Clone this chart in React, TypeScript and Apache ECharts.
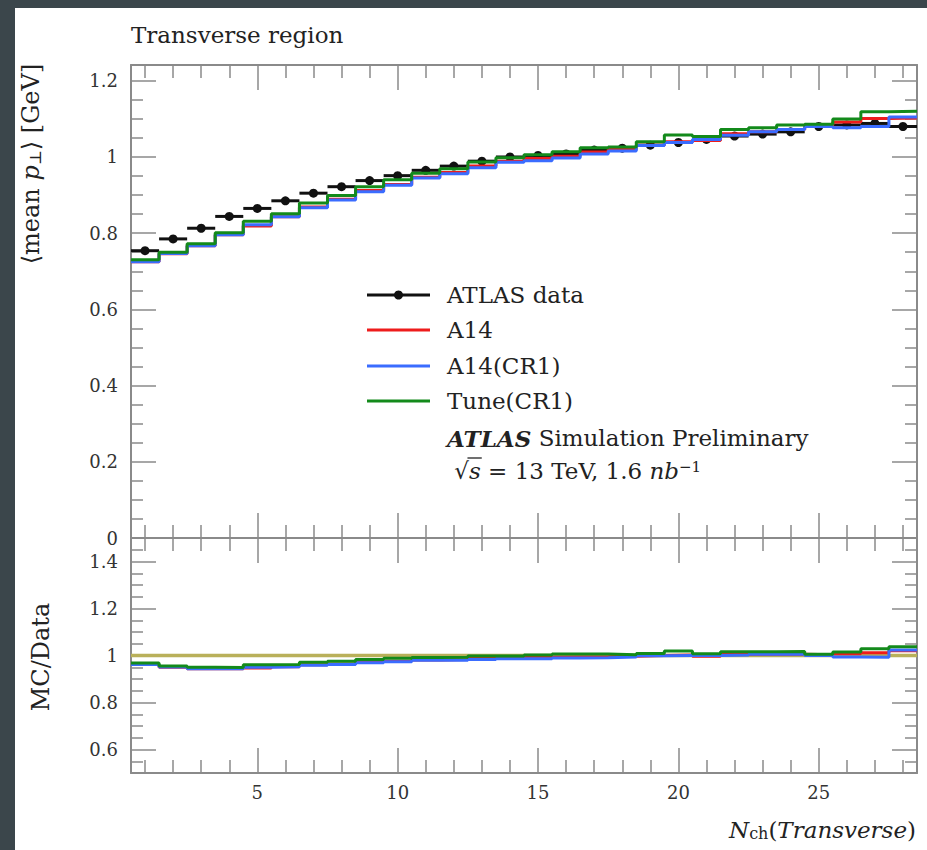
import React, { useEffect, useRef } from "react";
import * as echarts from "echarts";

// ---- data ----
const nch = [1, 2, 3, 4, 5, 6, 7, 8, 9, 10, 11, 12, 13, 14, 15, 16, 17, 18, 19, 20, 21, 22, 23, 24, 25, 26, 27, 28];
const atlasData = [0.754, 0.785, 0.813, 0.844, 0.865, 0.885, 0.905, 0.922, 0.938, 0.951, 0.965, 0.976, 0.989, 1.0, 1.004, 1.008, 1.018, 1.023, 1.031, 1.038, 1.046, 1.055, 1.06, 1.066, 1.08, 1.084, 1.088, 1.08];
const a14 = [0.725, 0.746, 0.767, 0.796, 0.819, 0.843, 0.869, 0.889, 0.912, 0.928, 0.947, 0.959, 0.976, 0.989, 0.996, 1.002, 1.013, 1.02, 1.031, 1.04, 1.043, 1.061, 1.066, 1.072, 1.083, 1.092, 1.101, 1.102];
const a14CR1 = [0.725, 0.747, 0.767, 0.796, 0.822, 0.843, 0.867, 0.887, 0.909, 0.926, 0.945, 0.956, 0.972, 0.986, 0.99, 0.997, 1.008, 1.016, 1.03, 1.038, 1.046, 1.057, 1.066, 1.072, 1.08, 1.077, 1.08, 1.105];
const tuneCR1 = [0.73, 0.75, 0.772, 0.801, 0.831, 0.851, 0.879, 0.899, 0.922, 0.94, 0.957, 0.969, 0.987, 0.998, 1.006, 1.014, 1.024, 1.026, 1.04, 1.058, 1.054, 1.072, 1.077, 1.084, 1.086, 1.1, 1.119, 1.12];

const seriesNames = ["ATLAS data", "A14", "A14(CR1)", "Tune(CR1)"];
const xMajorTicks = [5, 10, 15, 20, 25];
const mainMajorTicks = [0, 0.2, 0.4, 0.6, 0.8, 1, 1.2];
const ratioMajorTicks = [0.6, 0.8, 1, 1.2, 1.4];

const X_MIN = 0.5;
const X_MAX = 28.5;
const MAIN_MIN = 0;
const MAIN_MAX = 1.2414;
const RATIO_MIN = 0.5;
const RATIO_MAX = 1.5;

const FONT = "DejaVu Serif";
const FRAME = "#8a8a8a";
const TEXT = "#222";
const COL_DATA = "#111111";
const COL_A14 = "#ee1c1c";
const COL_A14CR1 = "#3a6cff";
const COL_TUNE = "#138a1b";
const COL_REF = "#b9b05a";
const DARK_BG = "#3b464b";

function minorTicks(lo: number, hi: number, step: number, majors: number[]) {
  const out: number[] = [];
  const n = Math.round((hi - lo) / step);
  for (let k = 0; k <= n; k++) {
    const v = +(lo + k * step).toFixed(4);
    if (!majors.some((m) => Math.abs(m - v) < 1e-6)) out.push(v);
  }
  return out;
}

const xMinorTicks = nch.filter((v) => !xMajorTicks.includes(v));
const mainMinorTicks = minorTicks(0, 1.2, 0.05, mainMajorTicks);
const ratioMinorTicks = minorTicks(0.5, 1.5, 0.05, ratioMajorTicks);

function stepPoints(vals: number[]) {
  const pts: number[][] = nch.map((x, i) => [x - 0.5, vals[i]]);
  pts.push([nch[nch.length - 1] + 0.5, vals[vals.length - 1]]);
  return pts;
}

function xAx(gridIndex: number, position: string, ticks: number[], len: number, showLine: boolean, labels: boolean) {
  return {
    type: "value",
    gridIndex,
    position,
    min: X_MIN,
    max: X_MAX,
    axisLine: { show: showLine, onZero: false, lineStyle: { color: FRAME, width: 2 } },
    axisTick: { show: true, inside: true, length: len, customValues: ticks, lineStyle: { color: FRAME, width: 1.5 } },
    axisLabel: labels
      ? { show: true, customValues: ticks, margin: 10, fontFamily: FONT, fontSize: 18, color: "#333", formatter: (v: number) => String(v) }
      : { show: false },
    splitLine: { show: false },
  };
}

function yAx(gridIndex: number, position: string, min: number, max: number, ticks: number[], len: number, showLine: boolean, labels: boolean) {
  return {
    type: "value",
    gridIndex,
    position,
    min,
    max,
    axisLine: { show: showLine, onZero: false, lineStyle: { color: FRAME, width: 2 } },
    axisTick: { show: true, inside: true, length: len, customValues: ticks, lineStyle: { color: FRAME, width: 1.5 } },
    axisLabel: labels
      ? { show: true, customValues: ticks, margin: 13, fontFamily: FONT, fontSize: 18, color: "#333", formatter: (v: number) => String(+v.toFixed(2)) }
      : { show: false },
    splitLine: { show: false },
  };
}

function measure(text: string, font: string) {
  const c = document.createElement("canvas").getContext("2d");
  if (!c) return text.length * 12;
  c.font = font;
  return c.measureText(text).width;
}

export default function App() {
  const ref = useRef<HTMLDivElement>(null);

  useEffect(() => {
    if (!ref.current) return;
    const chart = echarts.init(ref.current, null, { renderer: "svg" });

    const mcSets = [
      { name: seriesNames[1], vals: a14, color: COL_A14 },
      { name: seriesNames[2], vals: a14CR1, color: COL_A14CR1 },
      { name: seriesNames[3], vals: tuneCR1, color: COL_TUNE },
    ];

    const series: any[] = [];
    series.push({
      name: seriesNames[0],
      type: "custom",
      xAxisIndex: 0,
      yAxisIndex: 0,
      data: nch.map((x, i) => [x, atlasData[i]]),
      renderItem: (_p: any, api: any) => {
        const x = api.value(0);
        const y = api.value(1);
        const a = api.coord([x - 0.5, y]);
        const b = api.coord([x + 0.5, y]);
        const c = api.coord([x, y]);
        return {
          type: "group",
          children: [
            { type: "line", shape: { x1: a[0], y1: a[1], x2: b[0], y2: b[1] }, style: { stroke: COL_DATA, lineWidth: 3 } },
            { type: "circle", shape: { cx: c[0], cy: c[1], r: 4.5 }, style: { fill: COL_DATA } },
          ],
        };
      },
      z: 2,
    });
    mcSets.forEach((m, k) => {
      series.push({
        name: m.name,
        type: "line",
        xAxisIndex: 0,
        yAxisIndex: 0,
        step: "end",
        showSymbol: false,
        symbol: "none",
        data: stepPoints(m.vals),
        lineStyle: { color: m.color, width: 3 },
        z: 3 + k,
      });
    });
    // ratio panel
    series.push({
      name: "Data ratio",
      type: "line",
      xAxisIndex: 4,
      yAxisIndex: 4,
      showSymbol: false,
      symbol: "none",
      data: [
        [X_MIN, 1],
        [X_MAX, 1],
      ],
      lineStyle: { color: COL_REF, width: 3.5 },
      z: 2,
    });
    mcSets.forEach((m, k) => {
      series.push({
        name: m.name + " ratio",
        type: "line",
        xAxisIndex: 4,
        yAxisIndex: 4,
        step: "end",
        showSymbol: false,
        symbol: "none",
        data: stepPoints(m.vals.map((v, i) => v / atlasData[i])),
        lineStyle: { color: m.color, width: 3 },
        z: 3 + k,
      });
    });

    const LFS = 23;
    const legendX1 = 367;
    const legendX2 = 430;
    const legendTextX = 447;
    const rowsY = [295, 330, 366, 401];
    const legendColors = [COL_DATA, COL_A14, COL_A14CR1, COL_TUNE];
    const graphic: any[] = [
      {
        type: "text",
        x: 131,
        y: 35,
        style: { text: "Transverse region", fontFamily: FONT, fontSize: 23, fill: TEXT, verticalAlign: "middle", align: "left" },
      },
    ];
    seriesNames.forEach((n, i) => {
      graphic.push({
        type: "line",
        shape: { x1: legendX1, y1: rowsY[i], x2: legendX2, y2: rowsY[i] },
        style: { stroke: legendColors[i], lineWidth: 3 },
      });
      if (i === 0) {
        graphic.push({ type: "circle", shape: { cx: (legendX1 + legendX2) / 2, cy: rowsY[i], r: 4.5 }, style: { fill: COL_DATA } });
      }
      graphic.push({
        type: "text",
        x: legendTextX,
        y: rowsY[i],
        style: { text: n, fontFamily: FONT, fontSize: LFS, fill: TEXT, verticalAlign: "middle", align: "left" },
      });
    });
    graphic.push({
      type: "text",
      x: legendTextX,
      y: 438,
      style: {
        text: "{b|ATLAS} Simulation Preliminary",
        fontFamily: FONT,
        fontSize: LFS,
        fill: TEXT,
        verticalAlign: "middle",
        align: "left",
        rich: { b: { fontFamily: FONT, fontSize: LFS, fontWeight: "bold", fontStyle: "italic", fill: TEXT } },
      },
    });
    const sqrtY = 471;
    graphic.push({
      type: "text",
      x: legendTextX,
      y: sqrtY,
      style: {
        text: " √{i|s} = 13 TeV, 1.6 {i|nb}{sup|−1}",
        fontFamily: FONT,
        fontSize: LFS,
        fill: TEXT,
        verticalAlign: "middle",
        align: "left",
        rich: {
          i: { fontFamily: FONT, fontSize: LFS, fontStyle: "italic", fill: TEXT },
          sup: { fontFamily: FONT, fontSize: 15, fill: TEXT, verticalAlign: "top" },
        },
      },
    });
    // overline of the square root
    const wRoot = measure(" √", `${LFS}px "${FONT}"`);
    const wS = measure("s", `italic ${LFS}px "${FONT}"`);
    graphic.push({
      type: "line",
      shape: { x1: legendTextX + wRoot - 1.5, y1: sqrtY - 13, x2: legendTextX + wRoot + wS + 1, y2: sqrtY - 13 },
      style: { stroke: TEXT, lineWidth: 1.3 },
    });
    // y-axis titles
    graphic.push({
      type: "text",
      x: 31,
      y: 164,
      rotation: Math.PI / 2,
      style: {
        text: "⟨mean {i|p}{sub|⊥}⟩ [GeV]",
        fontFamily: FONT,
        fontSize: 24,
        fill: TEXT,
        align: "center",
        verticalAlign: "middle",
        rich: {
          i: { fontFamily: FONT, fontSize: 24, fontStyle: "italic", fill: TEXT },
          sub: { fontFamily: FONT, fontSize: 16, fill: TEXT, verticalAlign: "bottom" },
        },
      },
    });
    graphic.push({
      type: "text",
      x: 41,
      y: 657,
      rotation: Math.PI / 2,
      style: { text: "MC/Data", fontFamily: FONT, fontSize: 24, fill: TEXT, align: "center", verticalAlign: "middle" },
    });
    // x-axis title
    graphic.push({
      type: "text",
      x: 916,
      y: 830,
      style: {
        text: "{i|N}{sub|ch}({i|Transverse})",
        fontFamily: FONT,
        fontSize: 23,
        fill: TEXT,
        align: "right",
        verticalAlign: "middle",
        rich: {
          i: { fontFamily: FONT, fontSize: 23, fontStyle: "italic", fill: TEXT },
          sub: { fontFamily: FONT, fontSize: 16, fill: TEXT, verticalAlign: "bottom" },
        },
      },
    });

    const option: any = {
      animation: false,
      backgroundColor: "transparent",
      textStyle: { fontFamily: FONT },
      grid: [
        { left: 131, top: 65, width: 786, height: 473, containLabel: false },
        { left: 131, top: 538, width: 786, height: 235, containLabel: false },
      ],
      xAxis: [
        xAx(0, "bottom", xMajorTicks, 25, true, false),
        xAx(0, "bottom", xMinorTicks, 13, false, false),
        xAx(0, "top", xMajorTicks, 25, true, false),
        xAx(0, "top", xMinorTicks, 13, false, false),
        xAx(1, "bottom", xMajorTicks, 25, true, true),
        xAx(1, "bottom", xMinorTicks, 13, false, false),
        xAx(1, "top", xMajorTicks, 25, true, false),
        xAx(1, "top", xMinorTicks, 13, false, false),
      ],
      yAxis: [
        yAx(0, "left", MAIN_MIN, MAIN_MAX, mainMajorTicks, 25, true, true),
        yAx(0, "left", MAIN_MIN, MAIN_MAX, mainMinorTicks, 12, false, false),
        yAx(0, "right", MAIN_MIN, MAIN_MAX, mainMajorTicks, 25, true, false),
        yAx(0, "right", MAIN_MIN, MAIN_MAX, mainMinorTicks, 12, false, false),
        yAx(1, "left", RATIO_MIN, RATIO_MAX, ratioMajorTicks, 25, true, true),
        yAx(1, "left", RATIO_MIN, RATIO_MAX, ratioMinorTicks, 12, false, false),
        yAx(1, "right", RATIO_MIN, RATIO_MAX, ratioMajorTicks, 25, true, false),
        yAx(1, "right", RATIO_MIN, RATIO_MAX, ratioMinorTicks, 12, false, false),
      ],
      series,
      graphic,
    };

    chart.setOption(option);
    return () => chart.dispose();
  }, []);

  return (
    <div style={{ position: "fixed", left: 0, top: 0, right: 0, bottom: 0, background: "#ffffff", overflow: "hidden" }}>
      <div style={{ position: "absolute", left: 0, top: 0, width: 15, height: "100%", background: DARK_BG }} />
      <div style={{ position: "absolute", left: 0, top: 0, width: "100%", height: 8, background: DARK_BG }} />
      <div ref={ref} style={{ position: "absolute", left: 0, top: 0, width: 927, height: 850 }} />
    </div>
  );
}
